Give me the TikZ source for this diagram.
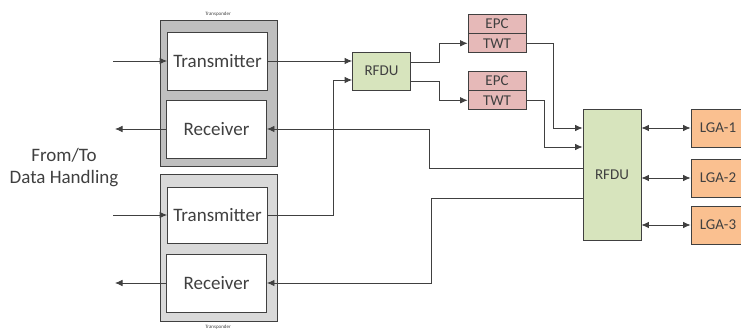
\documentclass[tikz,border=0pt]{standalone}
\usepackage{fontspec}
\setmainfont{Carlito}
\usepackage{tikz}
\usetikzlibrary{shapes,arrows.meta,positioning,calc}

\definecolor{rfgreen}{HTML}{D7E4BD}
\definecolor{twtpink}{HTML}{E6B9B8}
\definecolor{lgaorange}{HTML}{FAC090}
\definecolor{linegray}{HTML}{404040}

\begin{document}
\begin{tikzpicture}[
    x=1pt, y=-1pt,
    node distance=0pt,
    transponder/.style={rectangle, draw=linegray, line width=1pt, minimum width=117pt, minimum height=146pt},
    unit/.style={rectangle, draw=linegray, fill=white, line width=0.8pt, minimum width=100pt, minimum height=58pt, inner sep=0pt, text=linegray, font=\fontsize{19}{22}\selectfont},
    rfdu/.style={rectangle, draw=linegray, fill=rfgreen, line width=0.8pt, minimum width=58pt, inner sep=0pt, text=linegray, font=\fontsize{15}{18}\selectfont},
    tube/.style={rectangle, draw=linegray, fill=twtpink, line width=0.8pt, minimum width=58pt, minimum height=19pt, inner sep=0pt, text=linegray, font=\fontsize{15}{18}\selectfont},
    lga/.style={rectangle, draw=linegray, fill=lgaorange, line width=0.8pt, minimum width=54pt, minimum height=38pt, inner sep=0pt, text=linegray, font=\fontsize{15}{18}\selectfont},
    tag/.style={text=linegray, font=\fontsize{5}{6}\selectfont},
    arrow/.style={->, >={Latex[length=7.5pt,width=6.5pt]}, line width=0.8pt, draw=linegray},
    both/.style={<->, >={Latex[length=7.5pt,width=6.5pt]}, line width=0.8pt, draw=linegray}
]
    \clip (0,0) rectangle (741,331);

    % transponders
    \node[transponder, fill=gray!50] (tp1) at (218.5,94) {};
    \node[transponder, fill=gray!30] (tp2) at (218.5,248) {};
    \node[tag] (tp1tag) at (218,14) {Transponder};
    \node[tag] (tp2tag) at (218,327) {Transponder};

    \node[unit] (tx1) at (217.5,61) {Transmitter};
    \node[unit] (rx1) at (216.5,129) {Receiver};
    \node[unit, minimum height=56pt] (tx2) at (217.5,215) {Transmitter};
    \node[unit] (rx2) at (216.5,283) {Receiver};

    \node[text=linegray, align=center, font=\fontsize{19}{22}\selectfont] (dh) at (64,168) {From/To\\Data Handling};

    \coordinate (in1) at (113,61);
    \coordinate (out1) at (115,129);
    \coordinate (in2) at (113,215);
    \coordinate (out2) at (115,283);

    % rf chain
    \node[rfdu, minimum height=38pt] (rfdu1) at (381.5,71) {RFDU};
    \node[tube] (epc1) at (497,23.5) {EPC};
    \node[tube, below=0pt of epc1] (twt1) {TWT};
    \node[tube] (epc2) at (497,80.5) {EPC};
    \node[tube, below=0pt of epc2] (twt2) {TWT};
    \node[rfdu, minimum height=131pt] (rfdu2) at (612,174.5) {RFDU};

    \node[lga] (lga1) at (718,128) {LGA-1};
    \node[lga] (lga2) at (718,178) {LGA-2};
    \node[lga] (lga3) at (718,225) {LGA-3};

    \draw[arrow] (in1) -- (tx1.west);
    \draw[arrow] (rx1.west) -- (out1);
    \draw[arrow] (in2) -- (tx2.west);
    \draw[arrow] (rx2.west) -- (out2);

    \draw[arrow] (tx1.east) -- (tx1.east -| rfdu1.west);
    \draw[arrow] (tx2.east) -- ++(65.5,0) |- ($(rfdu1.west)+(0,9)$);

    \draw[arrow] ($(rfdu1.east)+(0,-9)$) -- ++(28,0) |- (twt1.west);
    \draw[arrow] ($(rfdu1.east)+(0,10)$) -- ++(28,0) |- (twt2.west);

    \draw[arrow] (twt1.east) -- ++(27,0) |- ($(rfdu2.west)+(0,-46.5)$);
    \draw[arrow] (twt2.east) -- ++(18,0) |- ($(rfdu2.west)+(0,-27.5)$);

    \draw[arrow] ($(rfdu2.west)+(0,-6.5)$) -- ++(-153,0) |- (rx1.east);
    \draw[arrow] ($(rfdu2.west)+(0,23.5)$) -- ++(-151,0) |- (rx2.east);

    \draw[both] (rfdu2.east |- lga1.west) -- (lga1.west);
    \draw[both] (rfdu2.east |- lga2.west) -- (lga2.west);
    \draw[both] (rfdu2.east |- lga3.west) -- (lga3.west);
\end{tikzpicture}
\end{document}
